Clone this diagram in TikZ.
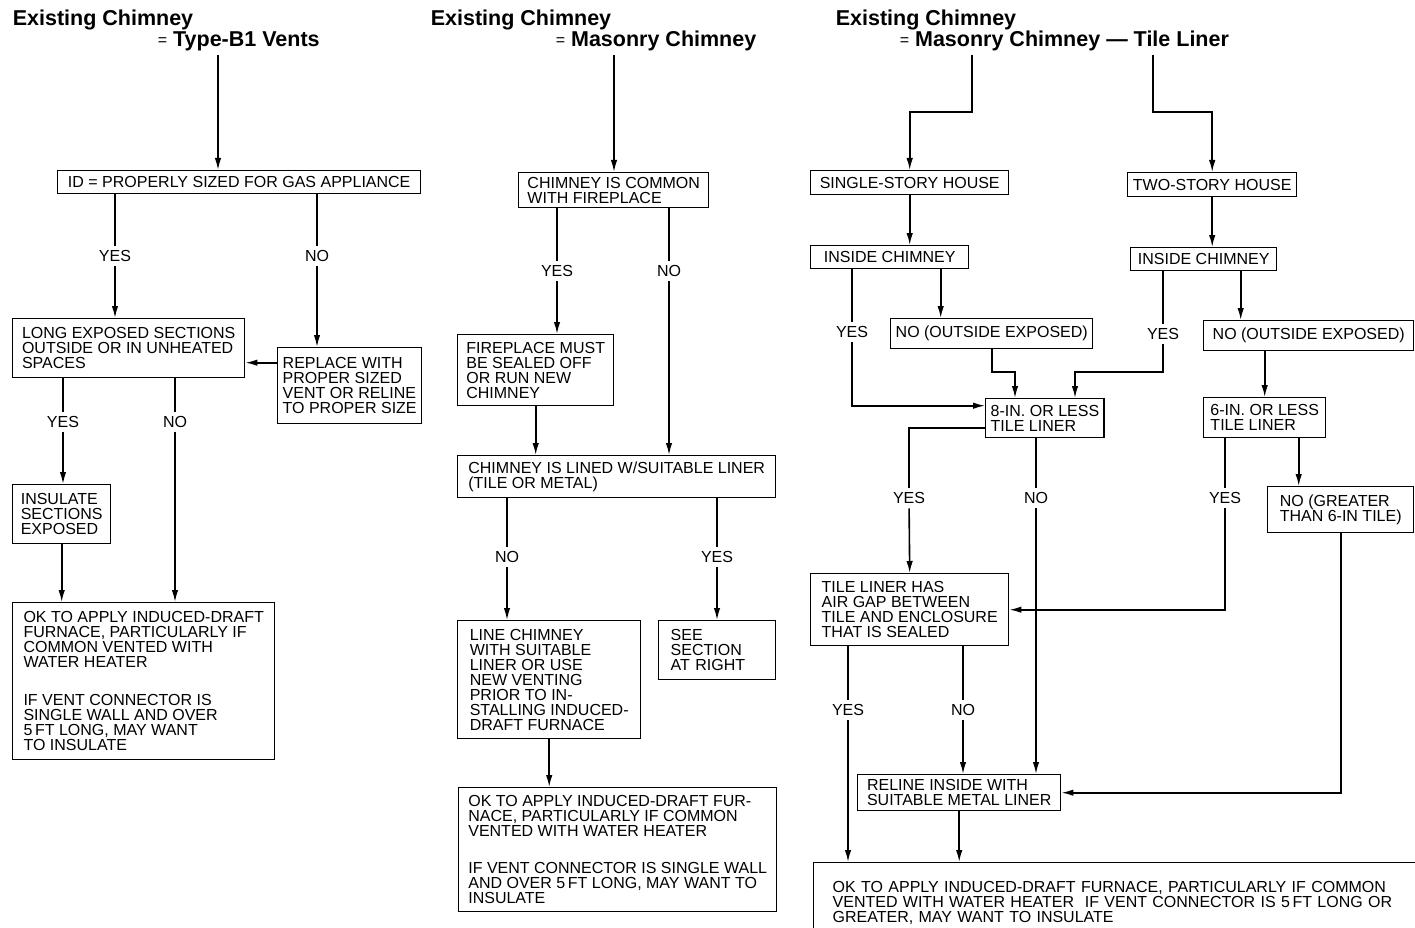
\documentclass[tikz,border=0pt]{standalone}
\usepackage{fontspec}
\setmainfont{Liberation Sans}
\usepackage{tikz}
\usetikzlibrary{arrows.meta}
\newcommand\boxfont{\fontsize{16}{15}\selectfont}
\newcommand\headfont{\fontsize{21.5}{21.5}\selectfont\bfseries}
\newcommand\eqsign{\raisebox{1.5pt}{\mdseries\fontsize{16}{16}\selectfont =}}

\begin{document}
\begin{tikzpicture}[x=1pt, y=-1pt, line width=1.6pt,
    >={Latex[length=12pt,width=6.5pt]},
    box/.style={draw, line width=1.4pt, anchor=north west, align=left, font=\boxfont, inner xsep=5pt, inner ysep=3pt},
    lbl/.style={font=\boxfont, inner sep=4pt},
    head/.style={anchor=base west, font=\headfont, inner sep=2pt}]
            \useasboundingbox (0,0) rectangle (1415,928);
            \node[head] (h1a) at (10,26) {Existing Chimney};
            \node[head] (h1b) at (155,47) {\eqsign\ Type-B1 Vents};
            \node[head] (h2a) at (428,26) {Existing Chimney};
            \node[head] (h2b) at (553,47) {\eqsign\ Masonry Chimney};
            \node[head] (h3a) at (833,26) {Existing Chimney};
            \node[head] (h3b) at (897,47) {\eqsign\ Masonry Chimney — Tile Liner};
            \node[box, minimum width=363pt, minimum height=23pt] (id) at (57,170) {ID = PROPERLY SIZED FOR GAS APPLIANCE};
            \node[box, minimum width=232pt, minimum height=59pt] (long) at (12,318) {LONG EXPOSED SECTIONS\\OUTSIDE OR IN UNHEATED\\SPACES};
            \node[box, minimum width=143pt, minimum height=76pt] (rep) at (277,347) {REPLACE WITH\\PROPER SIZED\\VENT OR RELINE\\TO PROPER SIZE};
            \node[box, minimum width=98pt, minimum height=59pt] (ins) at (12,484) {INSULATE\\SECTIONS\\EXPOSED};
            \node[box, minimum width=262pt, minimum height=157pt] (ok1) at (12,602) {OK TO APPLY INDUCED-DRAFT\\FURNACE, PARTICULARLY IF\\COMMON VENTED WITH\\WATER HEATER\\[23pt]IF VENT CONNECTOR IS\\SINGLE WALL AND OVER\\5\,FT LONG, MAY WANT\\TO INSULATE};
            \node[box, minimum width=190pt, minimum height=35pt] (chim) at (518,172) {CHIMNEY IS COMMON\\WITH FIREPLACE};
            \node[box, minimum width=156pt, minimum height=71pt] (fire) at (457,334) {FIREPLACE MUST\\BE SEALED OFF\\OR RUN NEW\\CHIMNEY};
            \node[box, minimum width=318pt, minimum height=42pt] (lined) at (457,455) {CHIMNEY IS LINED W/SUITABLE LINER\\(TILE OR METAL)};
            \node[box, minimum width=183pt, minimum height=118pt] (linech) at (457,620) {LINE CHIMNEY\\WITH SUITABLE\\LINER OR USE\\NEW VENTING\\PRIOR TO IN-\\STALLING INDUCED-\\DRAFT FURNACE};
            \node[box, text width=93pt, inner xsep=12pt, minimum height=59pt] (see) at (658,620) {SEE\\SECTION\\AT RIGHT};
            \node[box, minimum width=318pt, minimum height=124pt] (ok2) at (458,787) {OK TO APPLY INDUCED-DRAFT FUR-\\NACE, PARTICULARLY IF COMMON\\VENTED WITH WATER HEATER\\[22pt]IF VENT CONNECTOR IS SINGLE WALL\\AND OVER 5\,FT LONG, MAY WANT TO\\INSULATE};
            \node[box, minimum width=198pt, minimum height=24pt] (single) at (810,170) {SINGLE-STORY HOUSE};
            \node[box, minimum width=169pt, minimum height=24pt] (two) at (1127,172) {TWO-STORY HOUSE};
            \node[box, minimum width=158pt, minimum height=23pt] (in1) at (810,245) {INSIDE CHIMNEY};
            \node[box, minimum width=146pt, minimum height=23pt] (in2) at (1130,247) {INSIDE CHIMNEY};
            \node[box, minimum width=201pt, minimum height=30pt] (no1) at (890,318) {NO (OUTSIDE EXPOSED)};
            \node[box, minimum width=210pt, minimum height=30pt] (no2) at (1203,320) {NO (OUTSIDE EXPOSED)};
            \node[box, minimum width=112pt, minimum height=39pt] (eight) at (985,398) {8-IN. OR LESS\\TILE LINER};
            \node[box, minimum width=122pt, minimum height=40pt] (six) at (1203,397) {6-IN. OR LESS\\TILE LINER};
            \node[box, minimum width=146pt, minimum height=46pt] (ng) at (1267,486) {NO (GREATER\\THAN 6-IN TILE)};
            \node[box, minimum width=198pt, minimum height=72pt] (tile) at (810,573) {TILE LINER HAS\\AIR GAP BETWEEN\\TILE AND ENCLOSURE\\THAT IS SEALED};
            \node[box, minimum width=203pt, minimum height=36pt] (rel) at (857,774) {RELINE INSIDE WITH\\SUITABLE METAL LINER};
            \node[box, text width=571pt, inner xsep=19pt, minimum height=80pt] (ok3) at (813,862) {\makebox[\linewidth][s]{OK TO APPLY INDUCED-DRAFT FURNACE, PARTICULARLY IF COMMON}\\\makebox[\linewidth][s]{VENTED WITH WATER HEATER\ \ IF VENT CONNECTOR IS 5\,FT LONG OR}\\GREATER, MAY WANT TO INSULATE};
            \node[lbl] (y1) at (115,256) {YES};
            \node[lbl] (n1) at (317,256) {NO};
            \node[lbl] (y2) at (63,422) {YES};
            \node[lbl] (n2) at (175,422) {NO};
            \node[lbl] (y3) at (557,271) {YES};
            \node[lbl] (n3) at (669,271) {NO};
            \node[lbl] (n4) at (507,557) {NO};
            \node[lbl] (y4) at (717,557) {YES};
            \node[lbl] (y5) at (852,332) {YES};
            \node[lbl] (y6) at (1163,334) {YES};
            \node[lbl] (y7) at (909,498) {YES};
            \node[lbl] (n7) at (1036,498) {NO};
            \node[lbl] (y8) at (1225,498) {YES};
            \node[lbl] (y9) at (848,710) {YES};
            \node[lbl] (n9) at (963,710) {NO};
            \coordinate (t1) at (218,55);
            \coordinate (t2) at (614,55);
            \coordinate (t3a) at (972,55);
            \coordinate (t3b) at (1153,55);
            \coordinate (k1) at (972,112);
            \coordinate (k2) at (1153,112);
            \coordinate (m1) at (1015,372);
            \coordinate (m2) at (1075,372);
            \draw[->] (t1) -- (t1 |- id.north);
            \draw (id.south -| y1) -- (y1);
            \draw[->] (y1) -- (y1 |- long.north);
            \draw (id.south -| n1) -- (n1);
            \draw[->] (n1) -- (n1 |- rep.north);
            \draw[->] ([yshift=23pt]rep.west) -- ([yshift=23pt]rep.west -| long.east);
            \draw (long.south -| y2) -- (y2);
            \draw[->] (y2) -- (y2 |- ins.north);
            \draw (long.south -| n2) -- (n2);
            \draw[->] (n2) -- (n2 |- ok1.north);
            \draw[->] (ins.south) -- (ins.south |- ok1.north);
            \draw[->] (t2) -- (t2 |- chim.north);
            \draw (chim.south -| y3) -- (y3);
            \draw[->] (y3) -- (y3 |- fire.north);
            \draw (chim.south -| n3) -- (n3);
            \draw[->] (n3) -- (n3 |- lined.north);
            \draw[->] (fire.south) -- (fire.south |- lined.north);
            \draw (lined.south -| n4) -- (n4);
            \draw[->] (n4) -- (n4 |- linech.north);
            \draw (lined.south -| y4) -- (y4);
            \draw[->] (y4) -- (y4 |- see.north);
            \draw[->] (linech.south) -- (linech.south |- ok2.north);
            \draw[->] (t3a) -- (k1) -| (single.north);
            \draw[->] (t3b) -- (k2) -| (two.north);
            \draw[->] (single.south) -- (single.south |- in1.north);
            \draw[->] (two.south) -- (two.south |- in2.north);
            \draw (in1.south -| y5) -- (y5);
            \draw[->] (y5) |- ([yshift=12.5pt]eight.west);
            \draw[->] ([xshift=51pt]in1.south) -- ([xshift=51pt]in1.south |- no1.north);
            \draw[->] (no1.south) |- (m1) -- (m1 |- eight.north);
            \draw (in2.south -| y6) -- (y6);
            \draw[->] (y6) |- (m2) -- (m2 |- eight.north);
            \draw[->] ([xshift=37pt]in2.south) -- ([xshift=37pt]in2.south |- no2.north);
            \draw[->] (six.north |- no2.south) -- (six.north);
            \draw ([yshift=-9.5pt]eight.west) -| (y7);
            \draw[->] (y7) -- (tile.north);
            \draw (eight.south -| n7) -- (n7);
            \draw[->] (n7) -- (n7 |- rel.north);
            \draw (six.south -| y8) -- (y8);
            \draw[->] (y8) |- (tile.east);
            \draw[->] ([xshift=34pt]six.south) -- ([xshift=34pt]six.south |- ng.north);
            \draw[->] (ng.south) |- (rel.east);
            \draw (tile.south -| y9) -- (y9);
            \draw[->] (y9) -- (y9 |- ok3.north);
            \draw (tile.south -| n9) -- (n9);
            \draw[->] (n9) -- (n9 |- rel.north);
            \draw[->] (rel.south) -- (rel.south |- ok3.north);
        \end{tikzpicture}
\end{document}
